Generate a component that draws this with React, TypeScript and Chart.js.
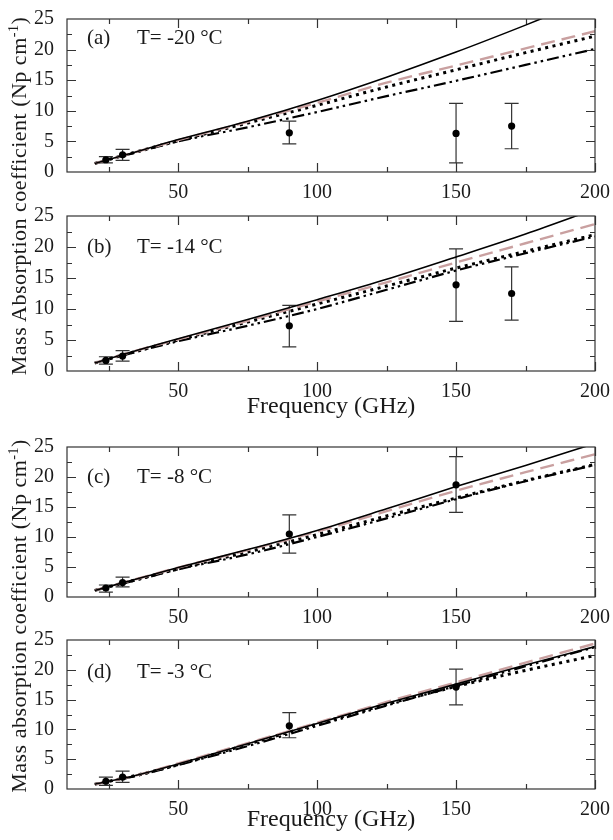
import React, { useEffect, useRef } from "react";
import { Chart, registerables } from "chart.js";

Chart.register(...registerables);

// ---------- data ----------
const FREQ = [20, 35, 50, 75, 100, 125, 150, 175, 200];

const SOLID_A = [1.4, 3.3, 5.3, 8.3, 11.7, 15.5, 19.6, 24.0, 28.6];
const DASHED_A = [1.4, 3.3, 5.2, 8.2, 11.3, 14.6, 17.4, 20.2, 23.0];
const DOTTED_A = [1.4, 3.3, 5.1, 8.0, 10.9, 13.9, 16.7, 19.5, 22.2];
const DASHDOT_A = [1.4, 3.2, 5.0, 7.3, 9.8, 12.4, 14.9, 17.5, 20.1];

const SOLID_B = [1.3, 3.3, 5.2, 8.3, 11.5, 14.8, 18.4, 22.1, 26.1];
const DASHED_B = [1.3, 3.3, 5.1, 8.1, 11.2, 14.3, 17.5, 20.6, 23.7];
const DOTTED_B = [1.3, 3.2, 5.0, 7.9, 10.8, 13.7, 16.6, 19.3, 22.0];
const DASHDOT_B = [1.3, 3.1, 4.8, 7.3, 10.0, 13.1, 16.2, 19.0, 21.7];

const SOLID_C = [1.1, 3.0, 4.9, 7.9, 11.1, 14.7, 18.4, 21.9, 25.6];
const DASHED_C = [1.1, 3.0, 4.9, 7.8, 10.9, 14.3, 17.7, 20.8, 23.8];
const DOTTED_C = [1.1, 2.9, 4.7, 7.5, 10.4, 13.5, 16.5, 19.4, 22.1];
const DASHDOT_C = [1.1, 2.8, 4.6, 7.1, 10.0, 13.1, 16.3, 19.3, 22.0];

const SOLID_D = [0.8, 2.3, 4.2, 7.6, 11.0, 14.4, 17.6, 20.8, 23.9];
const DASHED_D = [0.8, 2.3, 4.3, 7.7, 11.1, 14.6, 17.9, 21.2, 24.4];
const DOTTED_D = [0.8, 2.3, 4.1, 7.5, 10.9, 14.2, 17.2, 19.9, 22.4];
const DASHDOT_D = [0.8, 2.2, 4.0, 7.2, 10.6, 14.0, 17.3, 20.6, 23.8];

const MEAS_F_AB = [24, 30, 90, 150, 170];
const MEAS_F_CD = [24, 30, 90, 150];

const MEAS_A = [2.0, 2.8, 6.4, 6.3, 7.5];
const LO_A = [1.5, 1.9, 4.6, 1.5, 3.8];
const HI_A = [2.5, 3.7, 8.3, 11.2, 11.2];

const MEAS_B = [1.7, 2.4, 7.3, 13.9, 12.5];
const LO_B = [1.1, 1.6, 3.9, 8.0, 8.2];
const HI_B = [2.3, 3.3, 10.6, 19.7, 16.8];

const MEAS_C = [1.5, 2.4, 10.5, 18.7];
const LO_C = [0.8, 1.7, 7.3, 14.1];
const HI_C = [2.0, 3.3, 13.7, 23.4];

const MEAS_D = [1.3, 2.0, 10.6, 17.1];
const LO_D = [0.6, 1.1, 8.6, 14.1];
const HI_D = [2.0, 3.0, 12.8, 20.1];

const X_LABELS = [50, 100, 150, 200];
const X_MINOR = [25, 75, 125, 175];
const Y_MAJOR = [5, 10, 15, 20];
const Y_MINOR = [2.5, 7.5, 12.5, 17.5, 22.5];

const TAGS = ["(a)", "(b)", "(c)", "(d)"];
const TEMPS = ["T= -20 \u00B0C", "T= -14 \u00B0C", "T= -8 \u00B0C", "T= -3 \u00B0C"];
const X_TITLE = "Frequency (GHz)";

// ---------- styling / layout ----------
const FONT = '"Liberation Serif", "Times New Roman", serif';
const W = 613;
const PAD_T = 14;
const LEFT = 67;
const RIGHT_PAD = 18;
const INK = "#1a1a1a";

type Panel = {
  top: number;
  bottom: number;
  xTitle: boolean;
  xh: number;
  titlePad: number;
  labelY: number;
  tag: string;
  temp: string;
  lines: number[][];
  mf: number[];
  mv: number[];
  lo: number[];
  hi: number[];
};

const PANELS: Panel[] = [
  { top: 16, bottom: 172, xTitle: false, xh: 30, titlePad: 0, labelY: 21.8, tag: TAGS[0], temp: TEMPS[0],
    lines: [SOLID_A, DASHED_A, DOTTED_A, DASHDOT_A], mf: MEAS_F_AB, mv: MEAS_A, lo: LO_A, hi: HI_A },
  { top: 213, bottom: 371, xTitle: true, xh: 51, titlePad: 0.6, labelY: 20.0, tag: TAGS[1], temp: TEMPS[1],
    lines: [SOLID_B, DASHED_B, DOTTED_B, DASHDOT_B], mf: MEAS_F_AB, mv: MEAS_B, lo: LO_B, hi: HI_B },
  { top: 444, bottom: 597, xTitle: false, xh: 30, titlePad: 0, labelY: 20.0, tag: TAGS[2], temp: TEMPS[2],
    lines: [SOLID_C, DASHED_C, DOTTED_C, DASHDOT_C], mf: MEAS_F_CD, mv: MEAS_C, lo: LO_C, hi: HI_C },
  { top: 637, bottom: 789, xTitle: true, xh: 48, titlePad: 2.6, labelY: 19.5, tag: TAGS[3], temp: TEMPS[3],
    lines: [SOLID_D, DASHED_D, DOTTED_D, DASHDOT_D], mf: MEAS_F_CD, mv: MEAS_D, lo: LO_D, hi: HI_D },
];

const framePlugin = {
  id: "frameTicks",
  afterDatasetsDraw(chart: any) {
    const { ctx, chartArea: a, scales } = chart;
    const x = scales.x;
    const y = scales.y;
    ctx.save();
    ctx.strokeStyle = "#333";
    ctx.lineWidth = 1.2;
    ctx.beginPath();
    const xt = (v: number, len: number) => {
      const p = Math.round(x.getPixelForValue(v)) + 0.5;
      ctx.moveTo(p, a.bottom);
      ctx.lineTo(p, a.bottom - len);
      ctx.moveTo(p, a.top);
      ctx.lineTo(p, a.top + len);
    };
    const yt = (v: number, len: number) => {
      const p = Math.round(y.getPixelForValue(v)) + 0.5;
      ctx.moveTo(a.left, p);
      ctx.lineTo(a.left + len, p);
      ctx.moveTo(a.right, p);
      ctx.lineTo(a.right - len, p);
    };
    X_LABELS.forEach((v) => xt(v, 9));
    X_MINOR.forEach((v) => xt(v, 5));
    Y_MAJOR.forEach((v) => yt(v, 9));
    Y_MINOR.forEach((v) => yt(v, 5));
    ctx.stroke();
    ctx.strokeRect(a.left, a.top, a.right - a.left, a.bottom - a.top);
    ctx.restore();
  },
};

const errorBarPlugin = {
  id: "errBars",
  beforeDatasetsDraw(chart: any) {
    const { ctx, scales } = chart;
    const x = scales.x;
    const y = scales.y;
    ctx.save();
    ctx.strokeStyle = "#333";
    ctx.lineWidth = 1.2;
    chart.data.datasets.forEach((ds: any) => {
      if (!ds.errLo) return;
      ds.data.forEach((pt: any, i: number) => {
        const px = x.getPixelForValue(pt.x);
        const pl = y.getPixelForValue(ds.errLo[i]);
        const ph = y.getPixelForValue(ds.errHi[i]);
        ctx.beginPath();
        ctx.moveTo(px, pl);
        ctx.lineTo(px, ph);
        ctx.moveTo(px - 7, pl);
        ctx.lineTo(px + 7, pl);
        ctx.moveTo(px - 7, ph);
        ctx.lineTo(px + 7, ph);
        ctx.stroke();
      });
    });
    ctx.restore();
  },
};

const labelPlugin = {
  id: "panelLabel",
  afterDraw(chart: any) {
    const opts = chart.options.plugins.panelLabel;
    if (!opts) return;
    const { ctx, scales } = chart;
    ctx.save();
    ctx.fillStyle = INK;
    ctx.font = `21px ${FONT}`;
    ctx.textBaseline = "middle";
    ctx.textAlign = "left";
    const py = scales.y.getPixelForValue(opts.y);
    ctx.fillText(opts.tag, scales.x.getPixelForValue(17.2), py);
    ctx.fillText(opts.temp, scales.x.getPixelForValue(35.2), py);
    ctx.restore();
  },
};

function PanelChart({ cfg }: { cfg: Panel }) {
  const ref = useRef<HTMLCanvasElement>(null);
  const height = cfg.bottom - cfg.top + PAD_T + cfg.xh;
  useEffect(() => {
    const pts = (vals: number[]) => FREQ.map((f, i) => ({ x: f, y: vals[i] }));
    const [solid, dashed, dotted, dashdot] = cfg.lines;
    const chart = new Chart(ref.current as HTMLCanvasElement, {
      type: "line",
      data: {
        datasets: [
          {
            label: "measured",
            data: cfg.mf.map((f, i) => ({ x: f, y: cfg.mv[i] })),
            showLine: false,
            pointRadius: 3.6,
            pointBackgroundColor: "#000",
            pointBorderColor: "#000",
            pointBorderWidth: 0,
            errLo: cfg.lo,
            errHi: cfg.hi,
          } as any,
          {
            label: "solid",
            data: pts(solid),
            borderColor: "#000",
            borderWidth: 1.6,
            pointRadius: 0,
            cubicInterpolationMode: "monotone",
          },
          {
            label: "dashed",
            data: pts(dashed),
            borderColor: "#c9a0a0",
            borderWidth: 2.4,
            borderDash: [14, 7],
            pointRadius: 0,
            cubicInterpolationMode: "monotone",
          },
          {
            label: "dotted",
            data: pts(dotted),
            borderColor: "#000",
            borderWidth: 3,
            borderDash: [3, 4.5],
            borderCapStyle: "butt",
            pointRadius: 0,
            cubicInterpolationMode: "monotone",
          },
          {
            label: "dashdotdot",
            data: pts(dashdot),
            borderColor: "#000",
            borderWidth: 2.2,
            borderDash: [12, 4, 2.5, 4, 2.5, 4],
            pointRadius: 0,
            cubicInterpolationMode: "monotone",
          },
        ],
      },
      options: {
        responsive: false,
        animation: false,
        devicePixelRatio: 1,
        layout: { padding: { left: 0, right: RIGHT_PAD, top: PAD_T, bottom: 0 } },
        plugins: {
          legend: { display: false },
          tooltip: { enabled: false },
          panelLabel: { tag: cfg.tag, temp: cfg.temp, y: cfg.labelY },
        } as any,
        scales: {
          x: {
            type: "linear",
            min: 10,
            max: 200,
            grid: { display: false },
            border: { display: false },
            afterBuildTicks: (s: any) => {
              s.ticks = X_LABELS.map((v) => ({ value: v }));
            },
            afterFit: (s: any) => {
              s.height = cfg.xh;
            },
            ticks: {
              font: { family: FONT, size: 20 },
              color: INK,
              padding: 1,
              maxRotation: 0,
              autoSkip: false,
            },
            title: {
              display: cfg.xTitle,
              text: X_TITLE,
              color: INK,
              font: { family: FONT, size: 24 },
              padding: { top: 0, bottom: cfg.titlePad },
            },
          },
          y: {
            type: "linear",
            min: 0,
            max: 25,
            grid: { display: false },
            border: { display: false },
            afterFit: (s: any) => {
              s.width = LEFT;
            },
            ticks: {
              stepSize: 5,
              font: { family: FONT, size: 20 },
              color: INK,
              padding: 5,
            },
          },
        },
      } as any,
      plugins: [errorBarPlugin, framePlugin, labelPlugin],
    });
    return () => chart.destroy();
  }, []);
  return (
    <canvas
      ref={ref}
      width={W}
      height={height}
      style={{ position: "absolute", left: 0, top: cfg.top - PAD_T, width: W, height }}
    />
  );
}

function YTitle({ cx, cy, text }: { cx: number; cy: number; text: string }) {
  return (
    <div
      style={{
        position: "absolute",
        left: cx,
        top: cy,
        transform: "translate(-50%, -50%) rotate(-90deg)",
        whiteSpace: "nowrap",
        fontFamily: FONT,
        fontSize: 22,
        lineHeight: 1,
        color: INK,
        letterSpacing: "0.5px",
      }}
    >
      {text} (Np cm
      <span style={{ fontSize: 14, position: "relative", top: -8 }}>-1</span>)
    </div>
  );
}

export default function App() {
  return (
    <div
      style={{
        position: "absolute",
        left: 0,
        top: 0,
        width: W,
        height: 840,
        background: "#fff",
        overflow: "hidden",
      }}
    >
      {PANELS.map((p, i) => (
        <PanelChart key={i} cfg={p} />
      ))}
      <YTitle cx={19} cy={196} text="Mass Absorption coefficient" />
      <YTitle cx={19} cy={616} text="Mass absorption coefficient" />
    </div>
  );
}
